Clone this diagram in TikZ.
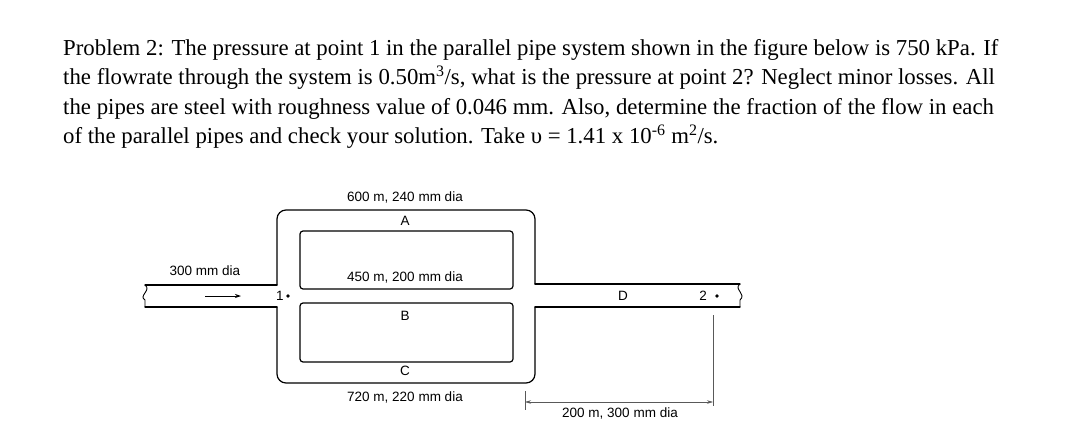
\documentclass[tikz,border=0pt]{standalone}
\usepackage{fontspec}
\setmainfont{Liberation Serif}
\newfontfamily\lsans{Liberation Sans}
\usetikzlibrary{arrows.meta}
\begin{document}
\begin{tikzpicture}[x=1pt,y=-1pt,
  ptext/.style={anchor=base west,inner sep=0,font=\fontsize{22.8}{26}\selectfont},
  lab/.style={inner sep=0,font=\lsans\fontsize{13.5}{15}\selectfont},
  wall/.style={line width=1.2pt,line cap=round},
  dim/.style={line width=0.6pt,gray!70!black}]
\useasboundingbox (0,0) rectangle (1069,439);
\node[ptext] (t1) at (63,55) {Problem 2: The pressure at point 1 in the parallel pipe system shown in the figure below is 750 kPa. If};
\node[ptext] (t2) at (63,84.5) {the flowrate through the system is 0.50m\textsuperscript{3}/s, what is the pressure at point 2? Neglect minor losses. All};
\node[ptext] (t3) at (63,114) {the pipes are steel with roughness value of 0.046 mm. Also, determine the fraction of the flow in each};
\node[ptext] (t4) at (63,143.5) {of the parallel pipes and check your solution. Take υ = 1.41 x 10\textsuperscript{-6} m\textsuperscript{2}/s.};
% outer loop
\draw[wall,rounded corners=9pt] (277,285) -- (277,210) -- (535,210) -- (535,284);
\draw[wall,rounded corners=9pt] (535,307) -- (535,383) -- (277,383) -- (277,307);
% inner rects
\draw[wall,rounded corners=3pt] (300,231) rectangle (513,289);
\draw[wall,rounded corners=3pt] (300,303) rectangle (513,362);
% inlet / outlet
\draw[wall] (145,285) -- (277,285) (145,307) -- (277,307);
\draw[wall] (535,284) -- (740,284) (535,307) -- (740,307);
% break marks
\draw[line width=0.9pt] (145,285) .. controls (152,290) and (138,296) .. (145,300) -- (145,307);
\draw[line width=0.9pt] (740,284) .. controls (733,289) and (747,294) .. (740,300) -- (740,307);
% flow arrow
\coordinate (fa) at (205,296); \coordinate (fb) at (241,296);
\draw[line width=0.8pt,-{Stealth[length=6pt,width=4pt]}] (fa) -- (fb);
% points
\node[lab] (p1) at (280,296) {1};
\fill (288,296) circle (1.8pt) coordinate (d1);
\node[lab] (p2) at (703,296) {2};
\fill (717,296) circle (1.8pt) coordinate (d2);
\node[lab] (D) at (623,296) {D};
% labels
\node[lab] (l300) at (205,271) {300 mm dia};
\node[lab] (lA1) at (405,197) {600 m, 240 mm dia};
\node[lab] (A) at (405,221) {A};
\node[lab] (lB1) at (405,277) {450 m, 200 mm dia};
\node[lab] (B) at (405,316) {B};
\node[lab] (C) at (405,371) {C};
\node[lab] (lC1) at (405,397) {720 m, 220 mm dia};
\node[lab] (lD1) at (620,413) {200 m, 300 mm dia};
% dimension
\coordinate (da) at (525,402); \coordinate (db) at (713,402);
\draw[dim] (525,391) -- (525,410);
\draw[dim] (713,315) -- (713,406);
\draw[dim,{Stealth[length=6pt,width=3.5pt]}-{Stealth[length=6pt,width=3.5pt]}] (da) -- (db);
\end{tikzpicture}
\end{document}
